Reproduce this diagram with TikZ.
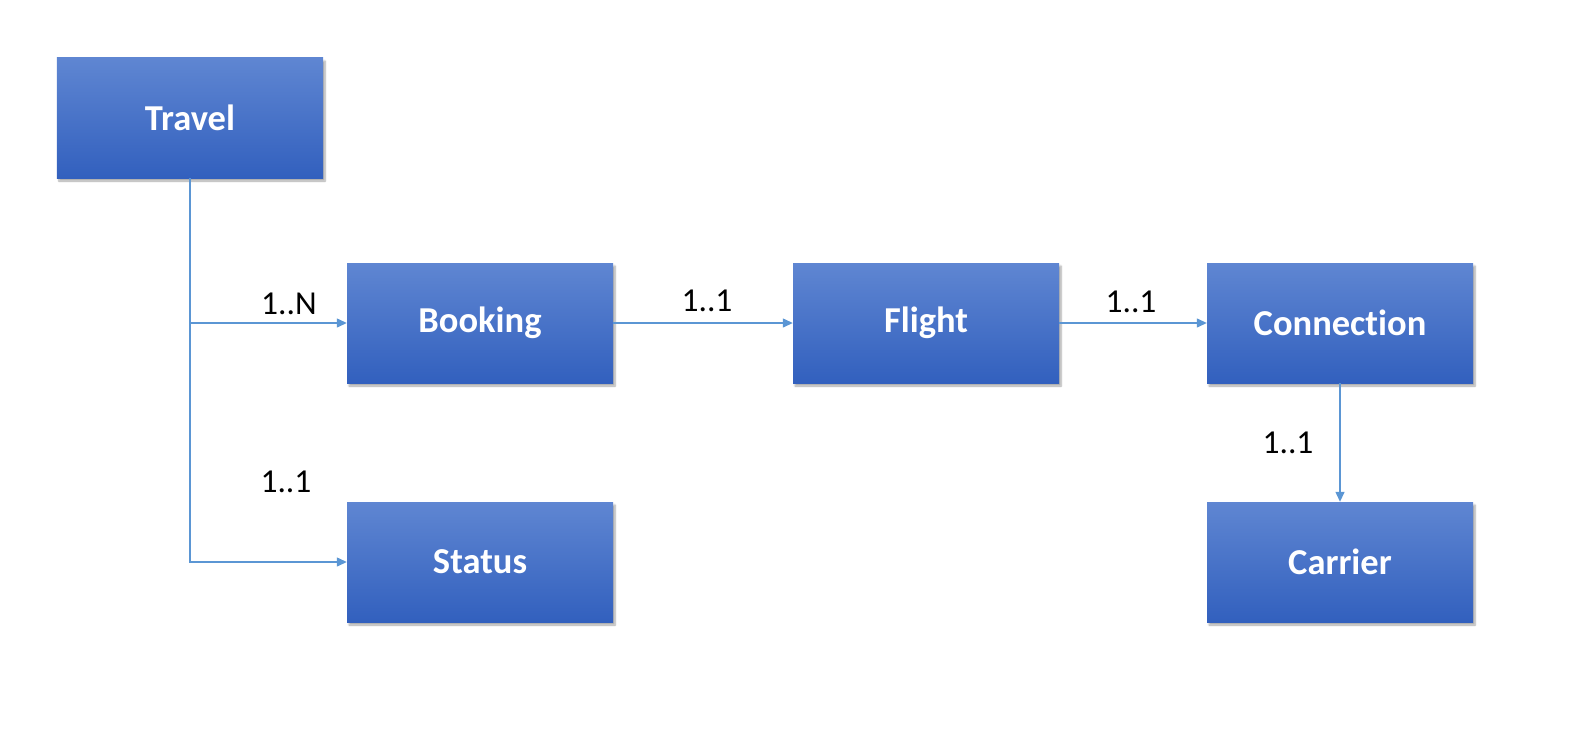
\documentclass[tikz,border=0pt]{standalone}
\usepackage{fontspec}
\setmainfont{Carlito}[Ligatures=NoCommon]
\usepackage{xcolor}
\usepackage{tikz}
\usetikzlibrary{arrows.meta,shadows.blur,positioning}

\definecolor{boxtop}{RGB}{95,134,210}
\definecolor{boxbot}{RGB}{50,96,190}
\definecolor{linkblue}{RGB}{91,150,212}

\begin{document}
\begin{tikzpicture}[x=1bp,y=-1bp]
\tikzset{entity/.style={rectangle,minimum width=266bp,minimum height=120bp,
  top color=boxtop,bottom color=boxbot,text=white,
  font=\fontsize{36.5bp}{40bp}\selectfont\bfseries,
  blur shadow={shadow xshift=2bp,shadow yshift=-3bp,shadow blur steps=6,shadow opacity=35}},
  link/.style={draw=linkblue,line width=1.3bp,-{Triangle[length=10bp,width=9bp]}},
  card/.style={font=\fontsize{33.5bp}{36bp}\selectfont,text=black,inner sep=0pt}}
\node[entity] (travel) at (190,118) {Travel};
\node[entity] (booking) at (480,323) {Booking};
\node[entity] (flight) at (926,323) {Flight};
\node[entity] (connection) at (1340,323) {Connection};
\node[entity] (status) at (480,562) {Status};
\node[entity] (carrier) at (1340,562) {Carrier};
\draw[link] (travel.south) |- (booking.west);
\draw[link] (travel.south) |- (status.west);
\draw[link] (booking) -- (flight);
\draw[link] (flight) -- (connection);
\draw[link] (connection) -- (carrier);
\node[card] (cardbooking) at (289,304) {1..N};
\node[card] (cardstatus) at (286,482) {1..1};
\node[card] (cardflight) at (707,301) {1..1};
\node[card] (cardconnection) at (1131,302) {1..1};
\node[card] (cardcarrier) at (1288,443) {1..1};
\pgfresetboundingbox
\useasboundingbox (0,0) rectangle (1590,745);
\end{tikzpicture}
\end{document}
